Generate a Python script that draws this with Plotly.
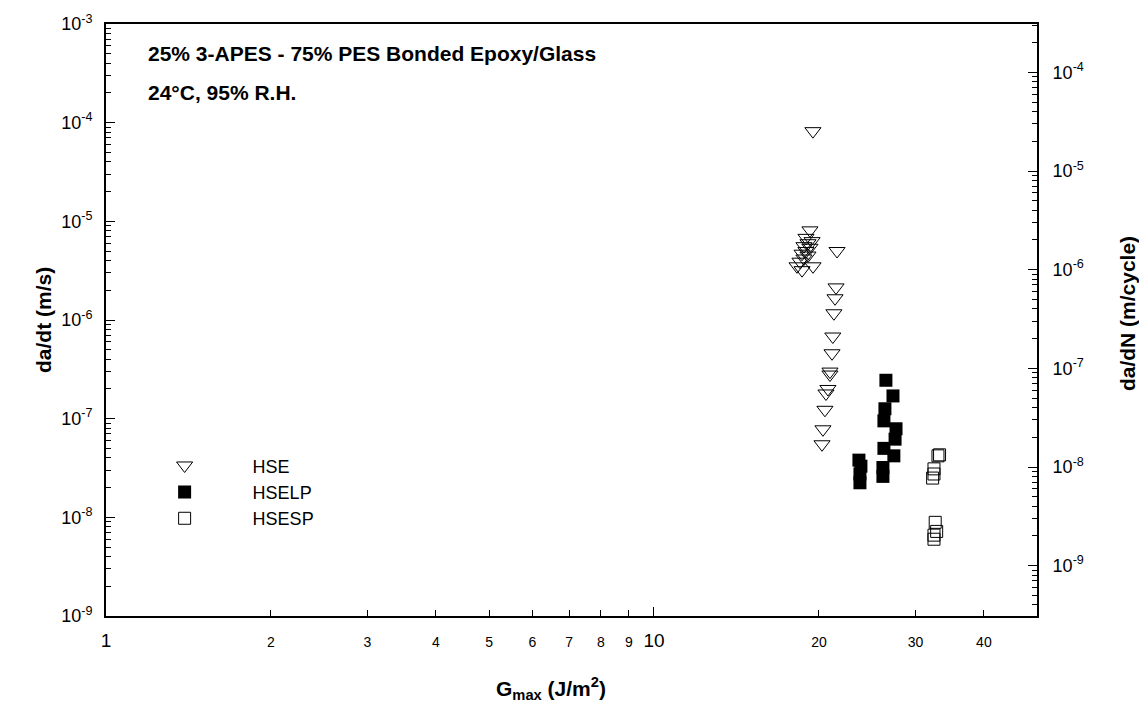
import plotly.graph_objects as go

# ---------------- data ----------------
hse_g = [19.5, 19.26, 18.94, 19.43, 19.10, 18.78, 19.26, 18.94, 18.63, 19.10, 18.78,
         18.47, 18.24, 19.51, 18.63, 21.58, 21.49, 21.40, 21.30, 21.20, 21.13, 20.95,
         20.95, 20.77, 20.60, 20.51, 20.34, 20.26]
hse_v = [8.2e-5, 8.1e-6, 6.8e-6, 6.3e-6, 6.0e-6, 5.6e-6, 5.4e-6, 5.0e-6, 4.7e-6, 4.5e-6, 4.2e-6,
         3.9e-6, 3.5e-6, 3.5e-6, 3.2e-6, 5.0e-6, 2.14e-6, 1.66e-6, 1.17e-6, 6.8e-7, 4.6e-7, 3.0e-7,
         2.8e-7, 2.0e-7, 1.8e-7, 1.23e-7, 7.8e-8, 5.5e-8]

hselp_g = [23.66, 23.86, 23.76, 23.76, 26.50, 27.30, 26.39, 26.28, 27.65, 27.54, 26.28,
           27.40, 26.17, 26.17]
hselp_v = [3.8e-8, 3.3e-8, 2.75e-8, 2.24e-8, 2.45e-7, 1.7e-7, 1.26e-7, 9.5e-8, 7.9e-8, 6.2e-8,
           5.0e-8, 4.2e-8, 3.2e-8, 2.6e-8]

hsesp_g = [32.98, 33.2, 32.43, 32.43, 32.25, 32.6, 32.8, 32.43, 32.43]
hsesp_v = [4.2e-8, 4.3e-8, 3.1e-8, 2.75e-8, 2.5e-8, 8.9e-9, 7.2e-9, 6.6e-9, 6.0e-9]

x_major = [1, 10]
x_minor = [2, 3, 4, 5, 6, 7, 8, 9, 20, 30, 40]
left_decades = [1e-9, 1e-8, 1e-7, 1e-6, 1e-5, 1e-4, 1e-3]
left_labels = ["10<sup>-9</sup>", "10<sup>-8</sup>", "10<sup>-7</sup>", "10<sup>-6</sup>",
               "10<sup>-5</sup>", "10<sup>-4</sup>", "10<sup>-3</sup>"]
right_decades = [1e-9, 1e-8, 1e-7, 1e-6, 1e-5, 1e-4]
right_labels = ["10<sup>-9</sup>", "10<sup>-8</sup>", "10<sup>-7</sup>", "10<sup>-6</sup>",
                "10<sup>-5</sup>", "10<sup>-4</sup>"]

FONT = "Liberation Sans, Arial, Helvetica, sans-serif"

def minor_vals(decades_exp):
    out = []
    for e in decades_exp:
        for m in range(2, 10):
            out.append(m * 10.0 ** e)
    return out

x_ticks = x_major + x_minor
x_text = []
for v in x_ticks:
    if v in x_major:
        x_text.append('<span style="font-size:19px">%d</span>' % v)
    else:
        x_text.append(str(v))

fig = go.Figure()
fig.add_trace(go.Scatter(x=hse_g, y=hse_v, mode="markers", name="HSE", legendgroup="a",
                         marker=dict(symbol="triangle-down-open", size=14, color="black",
                                     line=dict(width=1, color="black"))))
fig.add_trace(go.Scatter(x=hselp_g, y=hselp_v, mode="markers", name="HSELP", legendgroup="b",
                         marker=dict(symbol="square", size=13, color="black",
                                     line=dict(width=0))))
fig.add_trace(go.Scatter(x=hsesp_g, y=hsesp_v, mode="markers", name="HSESP", legendgroup="c",
                         marker=dict(symbol="square-open", size=12, color="black",
                                     line=dict(width=1, color="black"))))
# invisible traces so the right axis and the major-tick x axis are drawn
fig.add_trace(go.Scatter(x=[None], y=[None], yaxis="y2", showlegend=False, hoverinfo="skip"))
fig.add_trace(go.Scatter(x=[None], y=[None], xaxis="x2", showlegend=False, hoverinfo="skip"))

fig.update_layout(
    width=1139, height=715,
    margin=dict(l=106, r=102, t=16, b=99),
    paper_bgcolor="white", plot_bgcolor="white",
    font=dict(family=FONT, color="black", size=16),
    xaxis=dict(type="log", range=[0, 1.69897], showgrid=False, zeroline=False,
               showline=True, linewidth=2, linecolor="black", mirror=True,
               ticks="inside", ticklen=6, tickwidth=1, tickcolor="black",
               tickmode="array", tickvals=x_ticks, ticktext=x_text,
               tickfont=dict(size=14, family=FONT), ticklabelstandoff=12),
    xaxis2=dict(type="log", range=[0, 1.69897], overlaying="x", anchor="y", side="bottom",
                showgrid=False, zeroline=False, showline=False,
                ticks="inside", ticklen=9, tickwidth=1, tickcolor="black",
                tickmode="array", tickvals=x_major, showticklabels=False),
    yaxis=dict(type="log", range=[-9, -3], showgrid=False, zeroline=False,
               showline=True, linewidth=2, linecolor="black", mirror=False,
               ticks="inside", ticklen=9, tickwidth=1, tickcolor="black",
               tickmode="array", tickvals=left_decades, ticktext=left_labels,
               tickfont=dict(size=18, family=FONT), ticklabelstandoff=8,
               minor=dict(tickmode="array", tickvals=minor_vals(range(-9, -3)),
                          ticks="inside", ticklen=5, tickwidth=1, tickcolor="black")),
    yaxis2=dict(type="log", range=[-9.51, -3.51], overlaying="y", side="right",
                showgrid=False, zeroline=False, showline=True, linewidth=2,
                linecolor="black", ticks="inside", ticklen=9, tickwidth=1,
                tickcolor="black", tickmode="array", tickvals=right_decades,
                ticktext=right_labels, tickfont=dict(size=18, family=FONT),
                ticklabelstandoff=10,
                minor=dict(tickmode="array", tickvals=minor_vals(range(-10, -3)),
                           ticks="inside", ticklen=5, tickwidth=1, tickcolor="black")),
    legend=dict(x=0.0114, y=0.285, xanchor="left", yanchor="top",
                bgcolor="rgba(0,0,0,0)", borderwidth=0, itemwidth=126,
                tracegroupgap=0, font=dict(size=18, family=FONT)),
    showlegend=True,
)

annots = [
    dict(text="<b>25% 3-APES - 75% PES Bonded Epoxy/Glass</b>", x=0.043, y=0.95,
         xanchor="left", yanchor="middle", font=dict(size=21)),
    dict(text="<b>24°C, 95% R.H.</b>", x=0.043, y=0.885,
         xanchor="left", yanchor="middle", font=dict(size=21)),
    dict(text="<b>da/dt (m/s)</b>", x=-0.0677, y=0.5, textangle=-90,
         xanchor="center", yanchor="middle", font=dict(size=21)),
    dict(text="<b>da/dN (m/cycle)</b>", x=1.0967, y=0.51, textangle=-90,
         xanchor="center", yanchor="middle", font=dict(size=21)),
    dict(text="<b>G<sub>max</sub> (J/m<sup>2</sup>)</b>", x=0.478, y=-0.123,
         xanchor="center", yanchor="middle", font=dict(size=21)),
]
for a in annots:
    a.update(xref="paper", yref="paper", showarrow=False)
    fig.add_annotation(**a)

fig.write_html("out.html")
